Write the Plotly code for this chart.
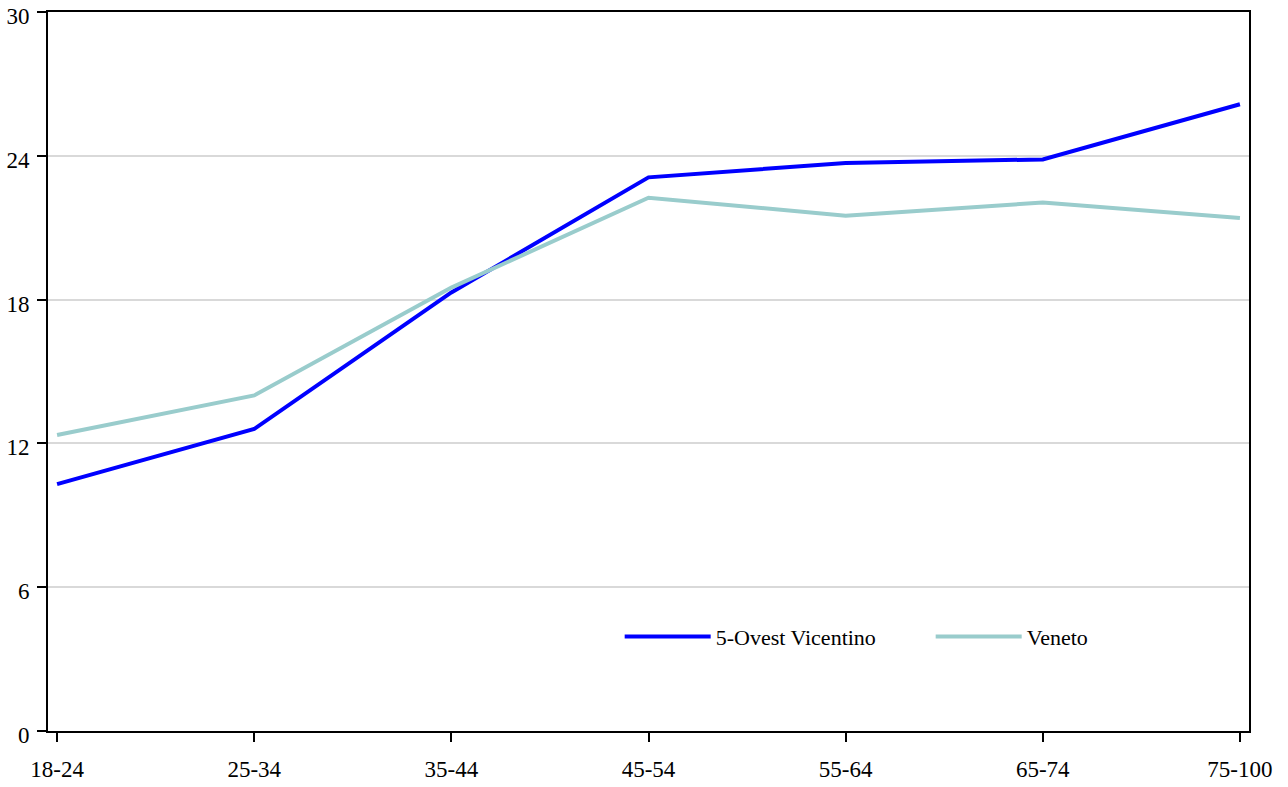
import plotly.graph_objects as go

categories = ["18-24", "25-34", "35-44", "45-54", "55-64", "65-74", "75-100"]
ovest_vicentino = [10.3, 12.6, 18.3, 23.1, 23.7, 23.85, 26.15]
veneto = [12.35, 14.0, 18.5, 22.25, 21.5, 22.05, 21.4]
y_ticks = [0, 6, 12, 18, 24, 30]

FONT = "Liberation Serif, Times New Roman, serif"

fig = go.Figure()
fig.add_trace(go.Scatter(x=categories, y=ovest_vicentino, mode="lines",
                         name="5-Ovest Vicentino",
                         line=dict(color="#0000FF", width=4)))
fig.add_trace(go.Scatter(x=categories, y=veneto, mode="lines",
                         name="Veneto",
                         line=dict(color="#99CCCC", width=4)))

fig.update_layout(
    width=1288, height=787,
    margin=dict(l=48, r=39, t=12, b=56, autoexpand=False),
    paper_bgcolor="white", plot_bgcolor="white",
    font=dict(family=FONT, size=23, color="black"),
    showlegend=True,
    legend=dict(orientation="h", x=0.476, y=0.131, xanchor="left", yanchor="middle",
                bgcolor="rgba(0,0,0,0)", font=dict(size=22),
                itemwidth=86, entrywidth=210, entrywidthmode="pixels"),
)
fig.update_xaxes(type="category", range=[-0.046, 6.046], automargin=False,
                 showline=True, linecolor="black", linewidth=2, mirror=True,
                 ticks="outside", ticklen=9, tickwidth=2, tickcolor="black",
                 ticklabeloverflow="allow", ticklabelstandoff=7,
                 showgrid=False, zeroline=False, tickfont=dict(size=23))
fig.update_yaxes(range=[0, 30], tickvals=y_ticks, automargin=False,
                 showline=True, linecolor="black", linewidth=2, mirror=True,
                 ticks="outside", ticklen=9, tickwidth=2, tickcolor="black",
                 ticklabeloverflow="allow", ticklabelshift=4, ticklabelstandoff=3,
                 showgrid=True, gridcolor="#d9d9d9", gridwidth=2,
                 zeroline=False, tickfont=dict(size=23))

fig.write_html("out.html",
               config={"displayModeBar": False},
               post_script="document.body.style.margin='0';document.body.style.padding='0';")
